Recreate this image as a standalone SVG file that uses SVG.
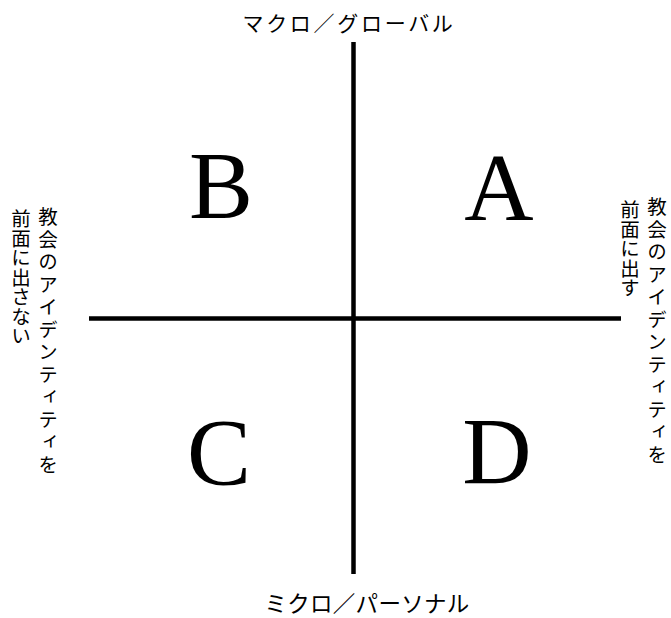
<svg xmlns="http://www.w3.org/2000/svg" width="671" height="618" viewBox="0 0 671 618">
<style>
.ax{stroke:#000;stroke-width:4.5;fill:none}
.q{font-family:"Liberation Serif","Times New Roman",serif;font-size:96px;fill:#000;text-anchor:middle}
.h{font-family:"Noto Sans CJK JP",sans-serif;fill:#000;text-anchor:middle;dominant-baseline:central}
.v{font-family:"Noto Sans CJK JP",sans-serif;font-size:19.5px;fill:#000;writing-mode:vertical-rl;text-anchor:start}
.w{letter-spacing:3px}
</style>
<rect width="671" height="618" fill="#fff"/>
<g id="connectors">
<line class="ax" x1="353.5" y1="42" x2="353.5" y2="574"/>
<line class="ax" x1="89" y1="318.5" x2="621" y2="318.5"/>
</g>
<g id="node-A"><text class="q" x="499" y="220">A</text></g>
<g id="node-B"><text class="q" x="221" y="218">B</text></g>
<g id="node-C"><text class="q" x="219" y="485">C</text></g>
<g id="node-D"><text class="q" x="497" y="484">D</text></g>
<g id="label-top"><text class="h" x="349" y="22" font-size="21" letter-spacing="2.7">マクロ／グローバル</text></g>
<g id="label-bottom"><text class="h" x="367" y="602" font-size="22.5" letter-spacing="0.3">ミクロ／パーソナル</text></g>
<g id="label-left">
<text class="v w" x="48" y="207">教会のアイデンティティを</text>
<text class="v" x="21" y="209">前面に出さない</text>
</g>
<g id="label-right">
<text class="v w" x="657" y="197">教会のアイデンティティを</text>
<text class="v" x="630" y="200">前面に出す</text>
</g>
</svg>
